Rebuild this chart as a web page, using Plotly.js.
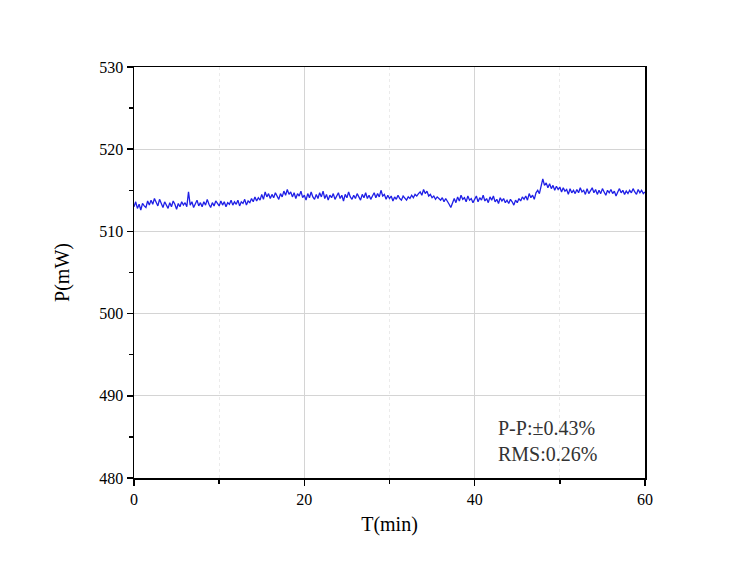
<!DOCTYPE html>
<html>
<head>
<meta charset="utf-8">
<script src="https://cdn.plot.ly/plotly-3.0.1.min.js"></script>
<style>
  body { margin: 0; background: #fff; }
  #plot { width: 750px; height: 574px; }
</style>
</head>
<body>
<div id="plot"></div>
<script>
// power readings, one every 0.2 min
var sampleStep = 0.2;
var power = [
  513.0, 513.6, 512.8, 513.3, 512.6, 513.4, 513.1, 512.9, 513.7, 513.2,
  513.8, 513.3, 514.0, 513.5, 513.1, 513.9, 513.4, 512.9, 513.6, 513.2,
  512.8, 513.5, 513.0, 513.7, 513.3, 512.7, 513.4, 513.0, 513.6, 513.2,
  513.5, 513.0, 514.8, 513.2, 513.6, 512.9, 513.4, 513.8, 513.1, 513.5,
  513.0, 513.6, 513.2, 513.9, 513.3, 512.9, 513.5, 513.1, 513.7, 513.4,
  513.1, 513.7, 513.2, 513.6, 513.0, 513.5, 513.3, 513.8, 513.2, 513.6,
  513.3, 513.8, 513.1, 513.6, 513.4, 513.9, 513.2, 513.7, 513.5, 514.0,
  513.6, 514.2, 513.7, 514.1, 513.8, 514.5, 513.9, 514.8, 514.2, 514.6,
  514.0, 514.5, 514.1, 514.7, 514.3, 513.9, 514.6, 514.2, 514.9, 514.4,
  515.1, 514.5, 514.8, 514.2, 514.7, 514.0, 514.6, 514.3, 514.9, 514.1,
  514.4, 513.8, 514.6, 514.1, 514.8, 514.2, 513.9, 514.5, 514.0, 514.7,
  514.2, 514.9, 514.0, 514.5, 513.8, 514.4, 514.1, 514.6, 513.9, 514.3,
  514.7, 514.0, 514.4, 513.7, 514.5, 514.1, 514.8, 514.2, 513.9, 514.4,
  514.0, 514.6, 514.2, 513.8, 514.5, 514.1, 514.7, 514.0, 514.4, 513.9,
  514.3, 514.7, 514.1, 514.6, 514.2, 515.0, 514.3, 514.5, 513.9, 514.4,
  514.0, 514.3, 513.7, 514.2, 513.9, 514.4, 514.0, 513.8, 514.3, 514.1,
  513.8, 514.2, 514.0, 514.4, 514.1, 514.5, 514.3, 514.6, 514.8, 514.4,
  515.1, 514.6, 514.9, 514.3, 514.5, 514.1, 514.3, 513.9, 514.2, 514.0,
  513.8, 514.1, 513.6, 514.0, 513.7, 513.3, 512.9, 513.6, 514.0, 513.5,
  514.2, 513.7, 514.4, 513.9, 514.1, 513.6, 514.3, 513.8, 514.0, 513.5,
  513.9, 514.3, 513.6, 514.1, 513.8, 514.4, 513.7, 514.0, 513.5, 514.2,
  513.8, 514.3, 513.6, 513.9, 513.4, 514.1, 513.7, 514.0, 513.5, 513.8,
  513.4, 513.9, 513.6, 513.2, 513.8, 513.5, 514.0, 513.7, 514.2, 513.9,
  514.3, 513.8, 514.6, 514.1, 514.4, 513.9, 514.7, 515.0, 514.6, 515.4,
  516.4, 515.6, 515.9, 515.3, 515.8, 515.2, 515.6, 515.0, 515.5, 515.1,
  515.4, 514.8, 515.3, 514.9, 515.1, 514.5, 515.2, 514.7, 515.0, 514.6,
  515.1, 514.7, 515.3, 514.8, 515.0, 514.5, 515.2, 514.6, 514.9, 515.3,
  514.7, 515.1, 514.5, 515.0, 514.6, 515.2, 514.8, 514.4, 515.0, 514.7,
  515.1, 514.6, 514.9, 514.3, 514.8, 515.2, 514.7, 515.0, 514.5, 514.9,
  514.6, 515.0, 514.7, 515.2, 514.8, 514.5, 515.1, 514.7, 515.0, 514.6,
  514.8
];
var xTicks = [0, 20, 40, 60];
var yTicks = [480, 490, 500, 510, 520, 530];
var statLines = ['P-P:±0.43%', 'RMS:0.26%'];

var time = power.map(function(v, i) { return +(i * sampleStep).toFixed(1); });

var serif = '"Liberation Serif", "DejaVu Serif", serif';

var data = [{
  x: time,
  y: power,
  type: 'scatter',
  mode: 'lines',
  line: { color: '#1f1fe6', width: 1.3 },
  hoverinfo: 'skip'
}];

var axisCommon = {
  showline: true,
  linecolor: '#000',
  linewidth: 1.5,
  mirror: true,
  ticks: 'outside',
  ticklen: 6,
  tickwidth: 1.5,
  tickcolor: '#000',
  showgrid: true,
  gridcolor: '#d4d4d4',
  gridwidth: 1,
  zeroline: false,
  tickfont: { family: serif, size: 16, color: '#000' }
};

var layout = {
  width: 750,
  height: 574,
  paper_bgcolor: '#fff',
  plot_bgcolor: '#fff',
  showlegend: false,
  margin: { l: 134, r: 105, t: 67, b: 96 },
  xaxis: Object.assign({}, axisCommon, {
    range: [0, 60],
    tickvals: xTicks,
    minor: { dtick: 10, ticks: 'outside', ticklen: 4, tickwidth: 1.5, tickcolor: '#000',
             showgrid: true, griddash: 'dot', gridcolor: '#ebebeb', gridwidth: 1 },
    title: { text: 'T(min)', font: { family: serif, size: 20, color: '#000' }, standoff: 10 }
  }),
  yaxis: Object.assign({}, axisCommon, {
    range: [480, 530],
    tickvals: yTicks,
    minor: { dtick: 5, ticks: 'outside', ticklen: 4, tickwidth: 1.5, tickcolor: '#000', showgrid: false },
    title: { text: 'P(mW)', font: { family: serif, size: 20, color: '#000' }, standoff: 24 }
  }),
  annotations: [{
    xref: 'x', yref: 'y',
    x: 42.5, y: 481.3,
    xanchor: 'left', yanchor: 'bottom',
    align: 'left',
    showarrow: false,
    text: statLines.join('<br>'),
    font: { family: serif, size: 20, color: '#333' }
  }]
};

Plotly.newPlot('plot', data, layout, { displayModeBar: false, staticPlot: true });
</script>
</body>
</html>
